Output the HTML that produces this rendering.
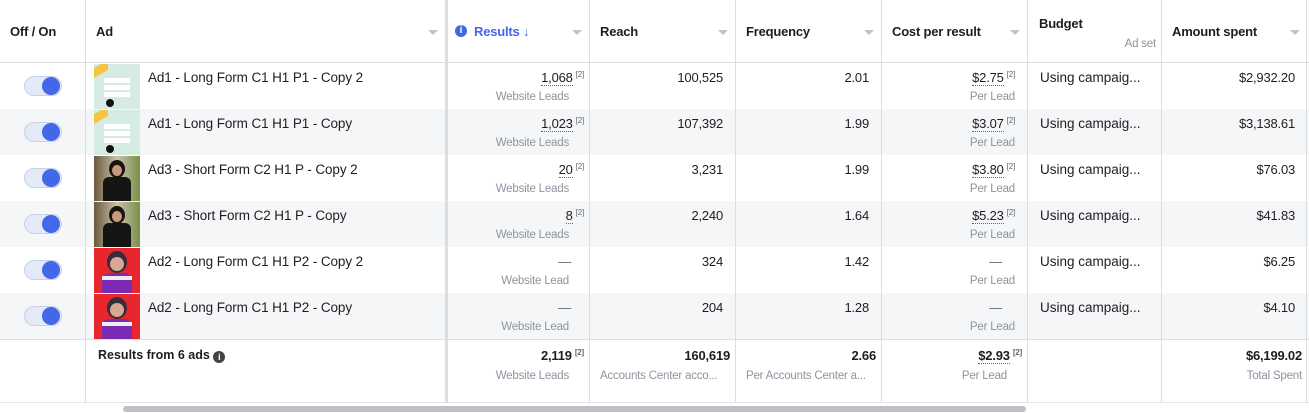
<!DOCTYPE html>
<html><head><meta charset="utf-8">
<style>
body{margin:0;width:1309px;height:413px;overflow:hidden;background:#fff;font-family:"Liberation Sans",Arial,sans-serif;color:#1c1e21;position:relative}
.a{position:absolute;white-space:nowrap}
.h{font-size:13px;font-weight:bold;top:24px;letter-spacing:-0.2px}
.arr{position:absolute;top:30px;width:0;height:0;border-left:5px solid transparent;border-right:5px solid transparent;border-top:5px solid #bec3c9}
.vl{position:absolute;top:0;width:1px;height:403px;background:#dadde1}
.num{font-size:13px;text-align:right;letter-spacing:-0.2px}
.sub{font-size:11.5px;color:#8d949e;text-align:right;letter-spacing:-0.2px}
.sup{font-size:8px;color:#606770;vertical-align:top;margin-left:3px}
.u{border-bottom:1px dotted #606770}
</style></head><body>
<div class="a" style="left:0;top:62px;width:1309px;height:1px;background:#dadde1"></div>
<div class="a" style="left:0;top:339px;width:1309px;height:1px;background:#dadde1"></div>
<div class="a" style="left:0;top:402px;width:1309px;height:1px;background:#e4e6eb"></div>
<div id="rows"></div>
<div class="vl" style="left:85px"></div>
<div class="vl" style="left:445px;width:3px;background:#dadde1"></div>
<div class="vl" style="left:589px"></div>
<div class="vl" style="left:735px"></div>
<div class="vl" style="left:881px"></div>
<div class="vl" style="left:1027px"></div>
<div class="vl" style="left:1161px"></div>
<div class="vl" style="left:1306px"></div>

<div class="a h" style="left:10px">Off / On</div>
<div class="a h" style="left:96px">Ad</div>
<div class="arr" style="left:428px"></div>
<div class="a" style="left:455px;top:25px;width:12px;height:12px;border-radius:50%;background:#4267e8;color:#fff;font-size:10px;font-weight:bold;text-align:center;line-height:12px">i</div>
<div class="a h" style="left:474px;color:#4267e8">Results ↓</div>
<div class="arr" style="left:572px"></div>
<div class="a h" style="left:600px">Reach</div>
<div class="arr" style="left:718px"></div>
<div class="a h" style="left:746px">Frequency</div>
<div class="arr" style="left:864px"></div>
<div class="a h" style="left:892px">Cost per result</div>
<div class="arr" style="left:1010px"></div>
<div class="a h" style="left:1039px;top:16px">Budget</div>
<div class="a sub" style="left:1100px;top:38px;width:56px">Ad set</div>
<div class="a h" style="left:1172px">Amount spent</div>
<div class="arr" style="left:1290px"></div>

<div class="a" style="left:98px;top:348px;font-size:12.5px;font-weight:bold">Results from 6 ads <span style="display:inline-block;width:12px;height:12px;border-radius:50%;background:#444;color:#fff;font-size:9px;text-align:center;line-height:12px;vertical-align:-1px">i</span></div>
<div class="a num" style="left:448px;top:348px;width:136px;font-weight:bold">2,119<span class="sup">[2]</span></div>
<div class="a sub" style="left:448px;top:370px;width:121px">Website Leads</div>
<div class="a num" style="left:590px;top:348px;width:140px;font-weight:bold">160,619</div>
<div class="a sub" style="left:600px;top:370px;text-align:left">Accounts Center acco...</div>
<div class="a num" style="left:736px;top:348px;width:140px;font-weight:bold">2.66</div>
<div class="a sub" style="left:746px;top:370px;text-align:left">Per Accounts Center a...</div>
<div class="a num" style="left:882px;top:348px;width:140px;font-weight:bold"><span class="u">$2.93</span><span class="sup">[2]</span></div>
<div class="a sub" style="left:882px;top:370px;width:125px">Per Lead</div>
<div class="a num" style="left:1162px;top:348px;width:140px;font-weight:bold">$6,199.02</div>
<div class="a sub" style="left:1162px;top:370px;width:140px">Total Spent</div>

<div class="a" style="left:123px;top:406px;width:903px;height:6px;border-radius:3px;background:#bcc0c4"></div>

<script>
const adNames=["Ad1 - Long Form C1 H1 P1 - Copy 2","Ad1 - Long Form C1 H1 P1 - Copy","Ad3 - Short Form C2 H1 P - Copy 2","Ad3 - Short Form C2 H1 P - Copy","Ad2 - Long Form C1 H1 P2 - Copy 2","Ad2 - Long Form C1 H1 P2 - Copy"];
const results=["1,068","1,023","20","8","—","—"];
const reach=["100,525","107,392","3,231","2,240","324","204"];
const frequency=["2.01","1.99","1.99","1.64","1.42","1.28"];
const costs=["$2.75","$3.07","$3.80","$5.23","—","—"];
const spent=["$2,932.20","$3,138.61","$76.03","$41.83","$6.25","$4.10"];
const thumbs=["ad1","ad1","ad3","ad3","ad2","ad2"];
const root=document.getElementById('rows');
function mk(cls,style,html){const d=document.createElement('div');d.className='a '+cls;d.style.cssText=style;d.innerHTML=html;root.appendChild(d);return d;}
const thumbHTML={
ad1:'<div style="position:absolute;inset:0;background:#d6ebe2"></div><div style="position:absolute;left:0;top:0;width:14px;height:10px;background:#f5c542;transform:skewY(-30deg)"></div><div style="position:absolute;left:10px;top:14px;width:26px;height:5px;background:#fff"></div><div style="position:absolute;left:10px;top:21px;width:26px;height:5px;background:#fff"></div><div style="position:absolute;left:10px;top:28px;width:26px;height:5px;background:#fff"></div><div style="position:absolute;left:12px;top:35px;width:8px;height:8px;border-radius:50%;background:#111"></div>',
ad3:'<div style="position:absolute;inset:0;background:linear-gradient(90deg,#6b5a3c,#c9c2a8 50%,#7a8f4a)"></div><div style="position:absolute;left:15px;top:4px;width:16px;height:18px;border-radius:50%;background:#1a1410"></div><div style="position:absolute;left:18px;top:9px;width:10px;height:11px;border-radius:50%;background:#c79a7e"></div><div style="position:absolute;left:9px;top:21px;width:28px;height:24px;background:#151515;border-radius:6px 6px 0 0"></div>',
ad2:'<div style="position:absolute;inset:0;background:#e8262e"></div><div style="position:absolute;left:13px;top:3px;width:20px;height:22px;border-radius:50%;background:#3a2a3e"></div><div style="position:absolute;left:16px;top:9px;width:14px;height:14px;border-radius:50%;background:#d8a890"></div><div style="position:absolute;left:8px;top:25px;width:30px;height:20px;background:#7b2bb5;border-radius:8px 8px 0 0"></div><div style="position:absolute;left:8px;top:28px;width:30px;height:4px;background:#eee"></div>'
};
for(let i=0;i<adNames.length;i++){
  const top=63+i*46;
  let d;
  if(i%2==1){d=mk('','left:0;top:'+top+'px;width:1309px;height:46px;background:#f5f6f7','');
  
  }
  d=mk('','left:24px;top:'+(top+13)+'px;width:38px;height:20px;border-radius:10px;background:#e4e9f7;border:1px solid #c9d1e6;box-sizing:border-box','<div style="position:absolute;right:1px;top:0px;width:18px;height:18px;border-radius:50%;background:#4267e8"></div>');
  
  
  d=mk('','left:94px;top:'+(top+1)+'px;width:46px;height:45px;overflow:hidden',thumbHTML[thumbs[i]]);
  
  
  d=mk('','left:148px;top:'+(top+7)+'px;font-size:13.5px;letter-spacing:-0.1px',adNames[i]);
  
  
  const r=results[i];
  d=mk('num','left:448px;top:'+(top+7)+'px;width:136px',r==='—'?'<span style="color:#606770;margin-right:13px">—</span>':'<span class="u">'+r+'</span><span class="sup">[2]</span>');
  
  
  d=mk('sub','left:448px;top:'+(top+28)+'px;width:121px',r==='—'?'Website Lead':'Website Leads');
  
  
  d=mk('num','left:590px;top:'+(top+7)+'px;width:133px',reach[i]);
  
  
  d=mk('num','left:736px;top:'+(top+7)+'px;width:133px',frequency[i]);
  
  
  const c=costs[i];
  d=mk('num','left:882px;top:'+(top+7)+'px;width:133px',c==='—'?'<span style="color:#606770;margin-right:13px">—</span>':'<span class="u">'+c+'</span><span class="sup">[2]</span>');
  
  
  d=mk('sub','left:882px;top:'+(top+28)+'px;width:133px','Per Lead');
  
  
  d=mk('','left:1040px;top:'+(top+7)+'px;font-size:13.5px','Using campaig...');
  
  
  d=mk('num','left:1162px;top:'+(top+7)+'px;width:133px',spent[i]);
  
  
}
</script>
</body></html>
